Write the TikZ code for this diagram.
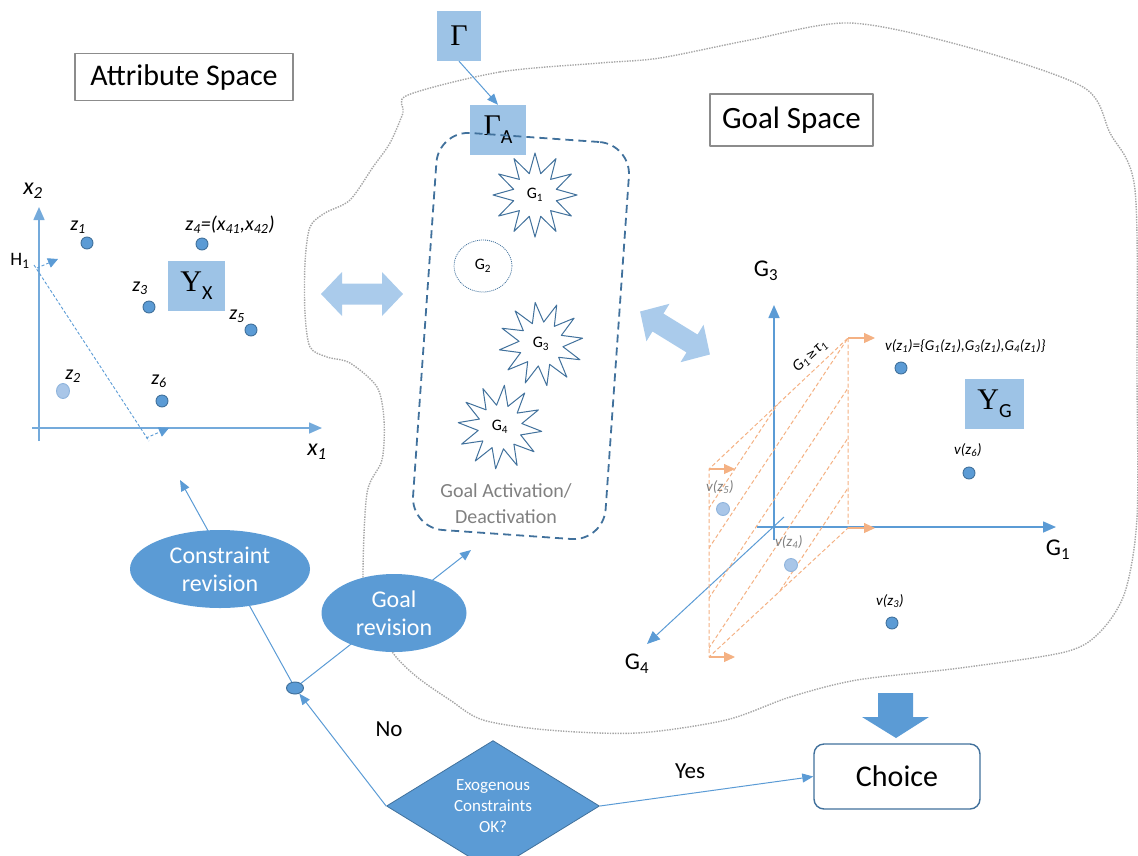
\documentclass[tikz,border=0pt]{standalone}
\usepackage{fontspec}
\setmainfont{Carlito}
\newfontfamily\serifG{Liberation Serif}
\newfontfamily\dejavu{DejaVu Sans}
\usetikzlibrary{arrows.meta,shapes.geometric}
\pgfdeclarelayer{bg}
\pgfsetlayers{bg,main}
\newcommand{\fs}[2]{\fontsize{#1}{#2}\selectfont}
\newcommand{\sbx}[1]{\textsubscript{#1}}
\definecolor{dkblue}{HTML}{41719C}
\definecolor{mdblue}{HTML}{5B9BD5}
\definecolor{ltblue}{HTML}{9DC3E6}
\definecolor{arrblue}{HTML}{AACBEB}
\definecolor{orng}{HTML}{F4B183}
\definecolor{gtxt}{HTML}{808080}
\definecolor{cloudgray}{HTML}{A6A6A6}
\definecolor{fadedot}{HTML}{A9C6E8}
\definecolor{fadeedge}{HTML}{8FB4DC}
\begin{document}
\begin{tikzpicture}[x=1pt,y=-1pt, line join=round,
  conn/.style={draw=mdblue, line width=1pt, -{Triangle[length=11pt,width=9pt]}},
  axis/.style={draw=mdblue, line width=1.6pt, -{Triangle[length=13pt,width=11pt]}},
  nrm/.style={draw=mdblue, line width=0.9pt, dash pattern=on 3pt off 2pt, -{Triangle[length=10pt,width=10pt]}},
  hline/.style={draw=mdblue, line width=0.9pt, dash pattern=on 3pt off 2pt},
  lbox/.style={fill=ltblue, inner sep=0pt},
  wbox/.style={draw=black!45, line width=1.2pt, fill=white, inner sep=0pt, font=\fs{30}{34}},
  dot/.style={circle, fill=mdblue, draw=dkblue, line width=0.9pt, minimum size=12pt, inner sep=0pt},
  fdot/.style={ellipse, fill=fadedot, draw=fadeedge, line width=0.9pt, minimum width=12pt, minimum height=14pt, inner sep=0pt},
  lab/.style={font=\fs{20}{24}\itshape, inner sep=0pt},
  vlab/.style={font=\fs{15}{18}\itshape, inner sep=0pt},
  glab/.style={font=\fs{24}{28}, inner sep=0pt},
  gstar/.style={star, star points=12, star point ratio=1.9, draw=dkblue, fill=white, line width=1pt, minimum size=84pt, inner sep=0pt, font=\fs{16}{19}},
  ordash/.style={draw=orng, line width=1pt, dash pattern=on 4pt off 2.5pt},
  orarr/.style={draw=orng, line width=1.1pt, -{Triangle[length=11pt,width=10pt]}},
  revell/.style={ellipse, fill=mdblue, text=white, align=center, inner sep=0pt, font=\fs{24}{28}},
  cloudline/.style={draw=cloudgray, line width=1.4pt, dash pattern=on 1.4pt off 1.2pt},
]
\useasboundingbox (0,0) rectangle (1138,855);

% ---------- goal space outline ----------
\begin{pgfonlayer}{bg}
\draw[cloudline] plot[smooth cycle, tension=0.5] coordinates {
 (408,95) (500,72) (600,63) (660,58) (750,40) (850,23) (967,47) (1083,87)
 (1110,133) (1135,190) (1137,380) (1137,518) (1125,592) (1100,632) (1065,652)
 (960,668) (857,680) (790,697) (726,720) (637,733) (548,730) (483,720)
 (450,700) (417,677) (393,653) (368,610) (363,577) (367,493) (382,460)
 (384,420) (377,387) (350,363) (327,357) (310,347) (305,313) (305,263)
 (310,227) (325,213) (350,200) (373,167) (390,143) (403,113)};
\end{pgfonlayer}

% ---------- titles ----------
\node[wbox, minimum width=218pt, minimum height=47pt] (attr) at (184,77) {Attribute Space};
\node[wbox, minimum width=163pt, minimum height=52pt, font=\fs{31}{35}] (gsp) at (791.5,120) {Goal Space};

% ---------- Gamma ----------
\node[lbox, minimum width=44pt, minimum height=50pt] (gam) at (459,36) {\serifG\fs{30}{32}Γ};
\node[lbox, minimum width=56pt, minimum height=50pt] (gamA) at (498,130) {{\serifG\fs{30}{32}Γ}\raisebox{-8pt}{\fs{20}{22}A}};
\draw[conn] (gam.south) -- (gamA.north);

% ---------- activation box ----------
\node[draw=dkblue, line width=1.8pt, dash pattern=on 8pt off 5pt, rounded corners=32pt,
      minimum width=193pt, minimum height=398pt, rotate=-4] (act) at (521,336) {};
\node[font=\fs{20}{26}, text=gtxt, align=center, inner sep=0pt] (actlab) at (506,504) {Goal Activation/\\Deactivation};
\node[gstar] (g1) at (535,195) {G\sbx{1}};
\node[draw=dkblue, line width=0.8pt, dash pattern=on 1pt off 1pt, ellipse, minimum width=58pt,
      minimum height=52pt, inner sep=0pt, font=\fs{16}{19}] (g2) at (483,266) {G\sbx{2}};
\node[gstar, shape border rotate=8] (g3) at (541,344) {G\sbx{3}};
\node[gstar, shape border rotate=-6] (g4) at (500,427) {G\sbx{4}};

% ---------- block double arrows ----------
\begin{scope}[shift={(362,294)}]
\fill[arrblue] (-41,0) -- (-20,-22) -- (-20,-10.5) -- (20,-10.5) -- (20,-22) -- (41,0)
  -- (20,22) -- (20,10.5) -- (-20,10.5) -- (-20,22) -- cycle;
\end{scope}
\begin{scope}[shift={(675,333)}, rotate=-31.6]
\fill[arrblue] (-41,0) -- (-20,-22) -- (-20,-10.5) -- (20,-10.5) -- (20,-22) -- (41,0)
  -- (20,22) -- (20,10.5) -- (-20,10.5) -- (-20,22) -- cycle;
\end{scope}

% ---------- attribute space axes ----------
\coordinate (ax2s) at (39,441); \coordinate (ax2e) at (39,207);
\coordinate (ax1s) at (32,428); \coordinate (ax1e) at (322,428);
\draw[axis, draw=mdblue!85] (ax2s) -- (ax2e);
\draw[axis, draw=mdblue!85] (ax1s) -- (ax1e);
\node[lab, font=\fs{24}{28}\itshape] (x2) at (33,191) {x\sbx{2}};
\node[lab, font=\fs{24}{28}\itshape] (x1) at (317,452) {x\sbx{1}};
\node[font=\fs{19}{21}, inner sep=0pt] (h1) at (20,261) {H\sbx{1}};
\coordinate (h1a) at (34,265); \coordinate (h1b) at (149,441);
\draw[hline] (h1a) -- (h1b);
\coordinate (n1s) at (37,268); \coordinate (n1e) at (58,259);
\coordinate (n2s) at (146,438); \coordinate (n2e) at (169,428);
\draw[nrm] (n1s) -- (n1e);
\draw[nrm] (n2s) -- (n2e);

\node[lbox, minimum width=57pt, minimum height=50pt] (yx) at (196.5,286) {{\serifG\fs{30}{32}Y}\raisebox{-8pt}{\fs{20}{22}X}};
\node[lab] (lz1) at (78,227) {z\sbx{1}};
\node[dot] (z1) at (87,243) {};
\node[lab] (lz4) at (230,225) {z\sbx{4}=(x\sbx{41},x\sbx{42})};
\node[dot] (z4) at (202,244) {};
\node[lab] (lz3) at (140,288) {z\sbx{3}};
\node[dot] (z3) at (149,307) {};
\node[lab] (lz5) at (237,316) {z\sbx{5}};
\node[dot] (z5) at (251,330) {};
\node[lab] (lz2) at (73,376) {z\sbx{2}};
\node[fdot, minimum width=13pt, minimum height=15pt] (z2) at (63,391) {};
\node[lab] (lz6) at (159,381) {z\sbx{6}};
\node[dot] (z6) at (162,401) {};

% ---------- goal space axes ----------
\coordinate (o3s) at (774,540); \coordinate (o3e) at (774,305);
\coordinate (o1s) at (757,527); \coordinate (o1e) at (1056,527);
\coordinate (o4s) at (784,517); \coordinate (o4e) at (647,644);
\draw[axis] (o3s) -- (o3e);
\draw[axis] (o1s) -- (o1e);
\draw[axis, line width=1pt] (o4s) -- (o4e);
\node[glab] (lg3) at (766,271) {G\sbx{3}};
\node[glab] (lg1) at (1058,550) {G\sbx{1}};
\node[glab] (lg4) at (637,664) {G\sbx{4}};

% orange half-space
\coordinate (oA) at (848,338); \coordinate (oB) at (848,528);
\coordinate (oC) at (709,657); \coordinate (oD) at (709,469);
\coordinate (oAe) at (875,338); \coordinate (oBe) at (875,528);
\coordinate (oCe) at (735,657); \coordinate (oDe) at (735,469);
\begin{scope}
\clip (oA) -- (oB) -- (oC) -- (oD) -- cycle;
\foreach \o in {-40,0,50,100,150} \draw[ordash] (987,128+\o) -- (570,758+\o);
\end{scope}
\draw[ordash] (oA) -- (oB) -- (oC) -- (oD) -- cycle;
\draw[orarr] (oA) -- (oAe);
\draw[orarr] (oB) -- (oBe);
\draw[orarr] (oC) -- (oCe);
\draw[orarr] (oD) -- (oDe);
\node[font=\fs{16}{19}\itshape, rotate=43, inner sep=0pt] (tau) at (810,356) {G\sbx{1}\kern1pt{\dejavu\fs{12}{14}≥}\kern1pt τ\sbx{1}};

\node[lbox, minimum width=59pt, minimum height=50pt] (yg) at (994.5,404) {{\serifG\fs{30}{32}Y}\raisebox{-8pt}{\fs{20}{22}G}};
\node[vlab, anchor=west] (lv1) at (885,346) {v(z\sbx{1})=\{G\sbx{1}(z\sbx{1}),G\sbx{3}(z\sbx{1}),G\sbx{4}(z\sbx{1})\}};
\node[dot] (v1) at (901,368) {};
\node[vlab] (lv6) at (968,450) {v(z\sbx{6})};
\node[dot] (v6) at (969,473) {};
\node[vlab] (lv3) at (890,601) {v(z\sbx{3})};
\node[dot] (v3) at (892,623) {};
\node[vlab, text=gtxt] (lv5) at (720,487) {v(z\sbx{5})};
\node[fdot, minimum width=13pt, minimum height=13pt] (v5) at (723,509) {};
\node[vlab, text=gtxt] (lv4) at (789,542) {v(z\sbx{4})};
\node[fdot, minimum width=13pt, minimum height=13pt] (v4) at (791,565) {};

% ---------- revision loop ----------
\node[revell, minimum width=180pt, minimum height=78pt] (cr) at (220,569) {Constraint\\revision};
\node[revell, minimum width=145pt, minimum height=78pt] (gr) at (394,613) {Goal\\revision};
\node[ellipse, fill=mdblue, draw=dkblue, line width=1pt, minimum width=17pt, minimum height=12pt, inner sep=0pt] (sd) at (295,688) {};
\coordinate (crtip) at (180,480);
\coordinate (grtip) at (471,550);
\begin{pgfonlayer}{bg}
\draw[conn] (sd) -- (crtip);
\draw[conn] (sd) -- (grtip);
\end{pgfonlayer}

\node[diamond, fill=mdblue, draw=dkblue, line width=0.8pt, minimum width=213pt, minimum height=102pt,
      inner sep=0pt, text=white, align=center, font=\fs{17}{21}] (dia) at (493,806) {Exogenous\\Constraints\\OK?};
\node[draw=dkblue, line width=1.4pt, rounded corners=10pt, minimum width=166pt, minimum height=65pt,
      fill=white, font=\fs{30}{33}] (ch) at (897,776.5) {Choice};
\draw[conn] (dia.west) -- (sd);
\draw[conn] (dia.east) -- (ch.west);
\node[font=\fs{23}{26}, inner sep=0pt] (no) at (389,729) {No};
\node[font=\fs{23}{26}, inner sep=0pt] (yes) at (690,771) {Yes};
\fill[mdblue] (878,693) -- (913,693) -- (913,717) -- (929,717) -- (896,738) -- (862,717) -- (878,717) -- cycle;
\end{tikzpicture}
\end{document}
